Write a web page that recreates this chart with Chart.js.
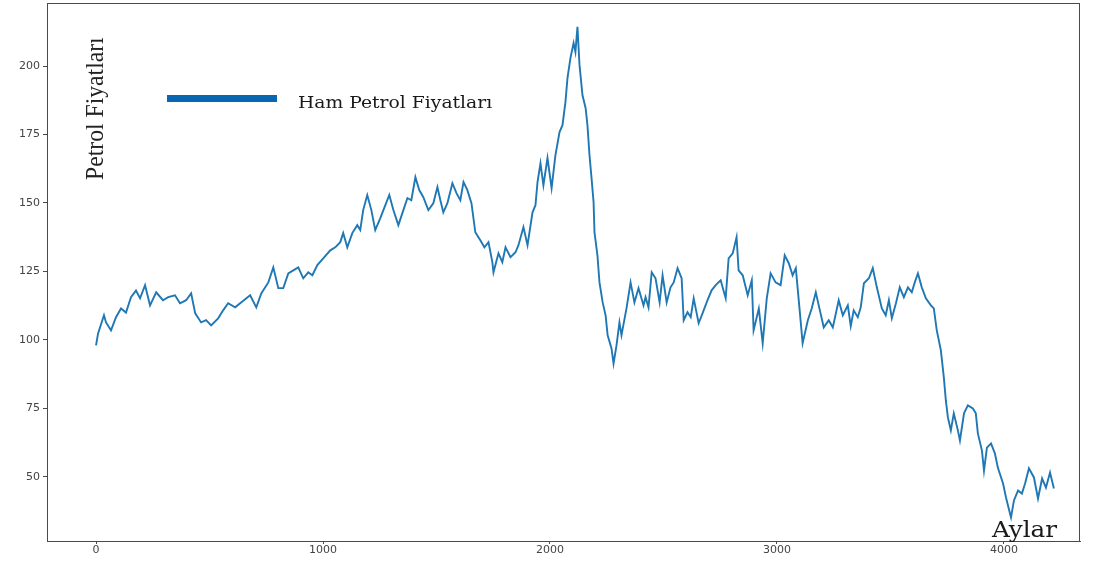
<!DOCTYPE html>
<html>
<head>
<meta charset="utf-8">
<script src="https://cdn.jsdelivr.net/npm/chart.js@4/dist/chart.umd.min.js"></script>
<style>
  html, body { margin: 0; padding: 0; background: #fff; }
  #wrap { position: relative; width: 1093px; height: 566px; }
  .lbl { position: absolute; white-space: nowrap; color: #1a1a1a; transform-origin: 0 0; }
  #ylab { font-family: "Liberation Serif", serif; font-size: 25px; color: #222; }
  #leg-line { position: absolute; left: 167px; top: 95px; width: 110px; height: 7px; background: #0866b2; }
  #leg-text { font-family: "DejaVu Serif", serif; font-size: 17px; }
  #xlab { font-family: "DejaVu Serif", serif; font-size: 22px; }
</style>
</head>
<body>
<div id="wrap">
  <canvas id="chart" width="1093" height="566"></canvas>
  <div id="leg-line"></div>
  <div class="lbl" id="leg-text" data-x="298" data-y="92" data-w="194">Ham Petrol Fiyatları</div>
  <div class="lbl" id="xlab" data-x="992" data-y="517" data-w="65">Aylar</div>
  <div class="lbl" id="ylab" data-x="81" data-y="180" data-w="143" data-rot="1">Petrol Fiyatları</div>
</div>
<script>
// months (x) and crude oil prices (y)
const months = [
  0, 9, 35, 44, 66, 88, 110, 132, 154, 176, 194, 216, 238, 265, 295, 318, 348, 370, 397, 419,
  437, 463, 485, 507, 538, 560, 582, 613, 639, 679, 706, 728, 759, 781, 803, 825, 847, 869, 891, 913,
  935, 953, 975, 1001, 1032, 1054, 1076, 1089, 1107, 1129, 1151, 1164, 1177, 1195, 1213, 1230, 1252, 1266, 1292, 1310,
  1332, 1354, 1372, 1389, 1407, 1424, 1442, 1464, 1486, 1504, 1517, 1530, 1548, 1570, 1588, 1605, 1619, 1636, 1654, 1671,
  1693, 1711, 1729, 1746, 1751, 1773, 1790, 1804, 1826, 1848, 1861, 1883, 1901, 1923, 1936, 1945, 1958, 1971, 1989, 2007,
  2024, 2042, 2055, 2068, 2077, 2090, 2104, 2112, 2121, 2130, 2143, 2157, 2165, 2174, 2183, 2192, 2196, 2209, 2218, 2232,
  2245, 2254, 2271, 2280, 2293, 2306, 2315, 2337, 2355, 2372, 2390, 2412, 2421, 2434, 2448, 2465, 2483, 2496, 2514, 2531,
  2545, 2562, 2580, 2589, 2606, 2620, 2633, 2655, 2672, 2694, 2712, 2730, 2752, 2774, 2787, 2805, 2822, 2831, 2849, 2871,
  2889, 2897, 2920, 2937, 2955, 2972, 2994, 3016, 3034, 3052, 3069, 3083, 3100, 3113, 3136, 3153, 3171, 3189, 3206, 3228,
  3246, 3272, 3290, 3312, 3325, 3338, 3356, 3369, 3383, 3405, 3422, 3440, 3462, 3479, 3493, 3506, 3524, 3541, 3559, 3577,
  3594, 3607, 3621, 3638, 3656, 3678, 3691, 3704, 3722, 3735, 3744, 3753, 3766, 3779, 3797, 3806, 3824, 3841, 3863, 3876,
  3885, 3903, 3912, 3925, 3943, 3960, 3973, 3996, 4009, 4018, 4031, 4044, 4062, 4079, 4093, 4110, 4132, 4150, 4168, 4185,
  4203, 4220
];
const prices = [
  98, 102.4, 109, 106.4, 103.5, 108.3, 111.5, 110, 115.6, 118, 115.2, 120, 112.6, 117.4, 114.5, 115.6, 116.3, 113.4, 114.5, 117,
  109.7, 106.4, 107.2, 105.3, 107.9, 110.8, 113.4, 111.9, 113.7, 116.3, 111.9, 117, 121, 126.5, 118.9, 118.9, 124.3, 125.4, 126.5, 122.5,
  124.7, 123.6, 127.3, 129.8, 132.7, 133.8, 135.7, 139, 133.8, 139, 141.9, 140.1, 147.4, 152.9, 147.4, 140.1, 144.4, 147.4, 152.9, 147.4,
  141.9, 147.4, 151.8, 151, 159.4, 154.7, 152.1, 147.4, 149.9, 155.8, 151, 146.6, 149.9, 157.2, 153.6, 151, 157.6, 154.7, 149.9, 139.3,
  136.4, 133.8, 135.7, 128.4, 124.7, 131.6, 128.4, 133.8, 130.2, 132, 134.6, 141.2, 134.6, 146.6, 149.2, 157.6, 164.5, 156.5, 166.4, 155.4,
  167.5, 175.9, 178.4, 186.8, 195.6, 202.9, 208.4, 205.1, 214.3, 200.4, 189.4, 184.6, 178.4, 167.5, 159.1, 150.3, 139.3, 130.9, 121, 113.7,
  109, 101.7, 96.9, 91.4, 98, 106.4, 101.7, 111.5, 121, 113.7, 118.9, 112.6, 115.6, 111.9, 124.7, 122.5, 113.7, 123.6, 113.7, 119.2,
  121, 126.2, 122.5, 107.2, 110.1, 108.3, 115.2, 106.1, 109.7, 114.5, 118.1, 120, 121.8, 115.2, 129.8, 131.6, 137.5, 125.4, 123.6, 116.3,
  121.8, 103.5, 111.5, 98.8, 115.2, 124.3, 121, 120, 130.9, 128, 123.6, 126.2, 110.8, 98.8, 107.2, 111.5, 117.4, 110.8, 104.6, 107.2,
  104.6, 114.5, 109, 112.6, 105, 110.8, 108.3, 111.9, 120.7, 122.5, 126.2, 119.2, 111.5, 109, 114.5, 107.9, 113.4, 119.2, 115.6, 119.2,
  117.4, 121, 124.3, 119.2, 115.2, 112.6, 111.5, 103.5, 96.2, 86.4, 77.9, 71.7, 67, 73.2, 67, 63.3, 73.2, 76.1, 75, 73.2,
  65.9, 59.6, 52.3, 60.7, 62.2, 58.6, 53.4, 47.6, 42.5, 39.5, 35.2, 41.4, 45, 43.9, 47.6, 53.1, 49.8, 42.1, 49.4, 46.1,
  51.6, 45.8
];
const xTicks = [0, 1000, 2000, 3000, 4000];
const yTicks = [50, 75, 100, 125, 150, 175, 200];

const axisColor = '#4a4a4a';

// box round the plot area, like matplotlib spines
const frame = {
  id: 'frame',
  afterDraw(chart) {
    const a = chart.chartArea, ctx = chart.ctx;
    ctx.save();
    ctx.strokeStyle = axisColor;
    ctx.lineWidth = 1;
    ctx.strokeRect(a.left + 0.5, a.top + 0.5, a.right - a.left - 1, a.bottom - a.top);
    ctx.restore();
  }
};

const tickFont = { family: 'DejaVu Sans', size: 11 };

// no extra room for half labels at the axis ends
function noPad(s) {
  s.paddingTop = 0; s.paddingBottom = 0; s.paddingLeft = 0; s.paddingRight = 0;
}

new Chart(document.getElementById('chart'), {
  type: 'line',
  data: {
    datasets: [{
      data: months.map((m, i) => ({ x: m, y: prices[i] })),
      borderColor: '#1f77b4',
      borderWidth: 1.9,
      pointRadius: 0,
      tension: 0
    }]
  },
  options: {
    responsive: false,
    animation: false,
    layout: { padding: { top: 3, right: 13, left: 0, bottom: 0 } },
    plugins: { legend: { display: false }, tooltip: { enabled: false } },
    scales: {
      x: {
        type: 'linear', min: -216, max: 4335,
        afterBuildTicks: s => { s.ticks = xTicks.map(v => ({ value: v })); },
        afterFit: s => { s.height = 25; noPad(s); },
        ticks: { color: '#444', font: tickFont, padding: 0, maxRotation: 0, callback: v => String(v) },
        grid: { drawOnChartArea: false, tickLength: 3, color: axisColor },
        border: { color: axisColor }
      },
      y: {
        min: 26.6, max: 223,
        afterBuildTicks: s => { s.ticks = yTicks.map(v => ({ value: v })); },
        afterFit: s => { s.width = 47; noPad(s); },
        ticks: { color: '#444', font: tickFont, padding: 3, callback: v => String(v) },
        grid: { drawOnChartArea: false, tickLength: 4, color: axisColor },
        border: { color: axisColor }
      }
    }
  },
  plugins: [frame]
});

// place the text overlays, squeezing each to the width seen in the picture
document.querySelectorAll('.lbl').forEach(el => {
  const w = el.offsetWidth, target = +el.dataset.w;
  const k = target / w;
  el.style.left = el.dataset.x + 'px';
  el.style.top = el.dataset.y + 'px';
  el.style.transform = el.dataset.rot ? `rotate(-90deg) scaleX(${k})` : `scaleX(${k})`;
});
</script>
</body>
</html>
